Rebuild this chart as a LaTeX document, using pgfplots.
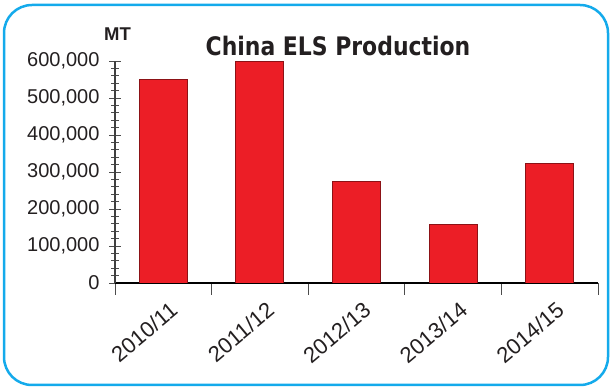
\documentclass[border=0pt]{standalone}
\usepackage{fontspec}
\setmainfont{Liberation Sans}
\newfontfamily\titlefont{DejaVu Sans}[FakeStretch=0.86]
\usepackage{pgfplots}
\pgfplotsset{compat=1.18}
\definecolor{barred}{RGB}{236,30,38}
\definecolor{baredge}{RGB}{140,18,22}
\definecolor{frameblue}{RGB}{20,170,235}
\definecolor{txt}{RGB}{35,31,32}
\begin{document}
\begin{tikzpicture}
\useasboundingbox (0bp,0bp) rectangle (610bp,387bp);
\draw[frameblue, line width=2.5bp, rounded corners=28bp] (4bp,2bp) rectangle (608bp,382bp);
\node[font=\titlefont\bfseries\fontsize{25.5bp}{29bp}\selectfont, text=txt, anchor=base, inner sep=0pt] at (338bp,331bp) {China ELS Production};
\node[font=\bfseries\fontsize{18.5bp}{22bp}\selectfont, text=txt, anchor=base, inner sep=0pt] at (117.5bp,346bp) {MT};
\begin{axis}[
  at={(115bp,104bp)}, anchor=south west,
  scale only axis, width=483bp, height=222bp,
  xmin=-0.5, xmax=4.5, ymin=0, ymax=600000,
  axis lines=left, axis line style={-, line width=1.2bp},
  x axis line style={black},
  y axis line style={black!75},
  tick align=center,
  major tick length=12bp, minor tick length=8bp,
  tick style={black!70, line width=0.8bp},
  ytick={0,100000,...,600000},
  minor y tick num=4,
  scaled y ticks=false,
  yticklabel style={font=\fontsize{20bp}{24bp}\selectfont, text=txt, xshift=-6bp,
    /pgf/number format/.cd, fixed, precision=0, 1000 sep={,}, assume math mode=true},
  xtick={-0.5,0.5,1.5,2.5,3.5,4.5}, xticklabels={,,,,,},
  xticklabel style={font=\fontsize{22bp}{26bp}\selectfont, text=txt, rotate=40, anchor=north east, inner sep=1bp, yshift=-16bp, xshift=-6bp},
  extra x ticks={0,1,2,3,4},
  extra x tick labels={2010/11,2011/12,2012/13,2013/14,2014/15},
  extra x tick style={major tick length=0pt},
  ybar, bar width=48bp,
]
\addplot[fill=barred, draw=baredge, line width=0.9bp] coordinates {(0,550000) (1,598000) (2,274000) (3,159000) (4,323000)};
\end{axis}
\end{tikzpicture}
\end{document}
